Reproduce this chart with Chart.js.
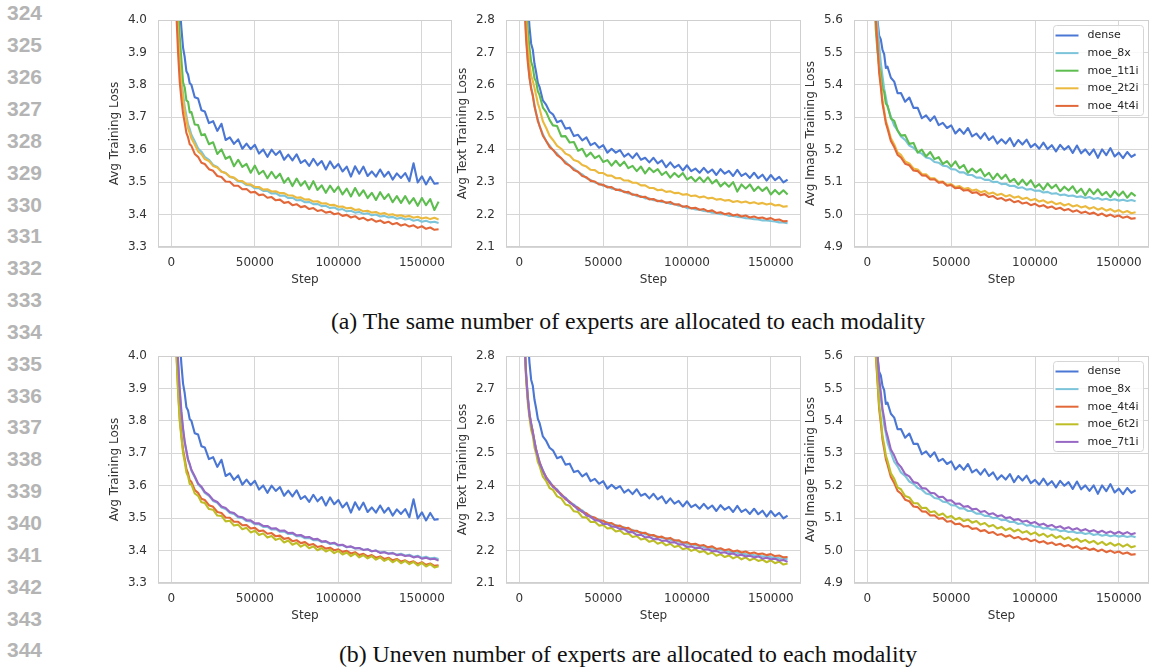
<!DOCTYPE html>
<html lang="en">
<head>
<meta charset="UTF-8">
<title>MoE training loss curves</title>
<script src="https://cdn.jsdelivr.net/npm/chart.js"></script>
<style>
    body {
        margin: 0;
        width: 1150px;
        height: 670px;
        position: relative;
        overflow: hidden;
        background: #fff;
        font-family: "DejaVu Sans", sans-serif;
    }
    .panel { position: absolute; }
    .panel canvas { display: block; }
    .lineno {
        position: absolute;
        left: 7px;
        font-family: "Liberation Sans", Arial, sans-serif;
        font-weight: bold;
        font-size: 21px;
        line-height: 21px;
        color: #b4b4b4;
    }
    .caption {
        position: absolute;
        left: 108px;
        width: 1040px;
        text-align: center;
        font-family: "Liberation Serif", "Times New Roman", serif;
        font-size: 23.8px;
        line-height: 23.8px;
        color: #111;
    }
</style>
</head>
<body>
<script>
// training steps shared by every curve
const steps = [3000, 4000, 5000, 6000, 7000, 8000, 9000, 10000, 11000, 12000,
    14000, 16000, 18000, 20000, 22500, 25000, 27500, 30000, 32500, 35000,
    37500, 40000, 42500, 45000, 47500, 50000, 52500, 55000, 57500, 60000,
    62500, 65000, 67500, 70000, 72500, 75000, 77500, 80000, 82500, 85000,
    87500, 90000, 92500, 95000, 97500, 100000, 102500, 105000, 107500, 110000,
    112500, 115000, 117500, 120000, 122500, 125000, 127500, 130000, 132500, 135000,
    137500, 140000, 142500, 145000, 147500, 150000, 152500, 155000, 157500, 160000];

const stepTicks = [0, 50000, 100000, 150000];
const allTicks = [3.3, 3.4, 3.5, 3.6, 3.7, 3.8, 3.9, 4.0];
const textTicks = [2.1, 2.2, 2.3, 2.4, 2.5, 2.6, 2.7, 2.8];
const imageTicks = [4.9, 5.0, 5.1, 5.2, 5.3, 5.4, 5.5, 5.6];

// --- avg training loss (all tokens) ---
const allDense = [4.40, 4.20, 4.05, 3.975, 3.915, 3.885, 3.842, 3.832, 3.805, 3.800,
    3.762, 3.758, 3.722, 3.718, 3.682, 3.688, 3.658, 3.680, 3.630, 3.638,
    3.618, 3.632, 3.603, 3.619, 3.602, 3.615, 3.588, 3.601, 3.578, 3.600,
    3.584, 3.596, 3.569, 3.585, 3.567, 3.586, 3.559, 3.568, 3.550, 3.572,
    3.552, 3.565, 3.539, 3.564, 3.543, 3.556, 3.533, 3.548, 3.517, 3.549,
    3.526, 3.548, 3.519, 3.533, 3.517, 3.539, 3.517, 3.532, 3.508, 3.527,
    3.513, 3.528, 3.503, 3.558, 3.499, 3.518, 3.493, 3.516, 3.495, 3.497];
const allMoe8x = [4.10, 3.98, 3.89, 3.82, 3.772, 3.733, 3.705, 3.678, 3.664, 3.646,
    3.626, 3.604, 3.594, 3.578, 3.569, 3.553, 3.547, 3.533, 3.528, 3.516,
    3.513, 3.502, 3.500, 3.491, 3.490, 3.481, 3.481, 3.473, 3.473, 3.465,
    3.466, 3.458, 3.459, 3.451, 3.452, 3.444, 3.445, 3.438, 3.439, 3.432,
    3.433, 3.426, 3.427, 3.420, 3.422, 3.415, 3.417, 3.410, 3.412, 3.406,
    3.408, 3.402, 3.404, 3.398, 3.400, 3.394, 3.396, 3.391, 3.393, 3.387,
    3.390, 3.385, 3.387, 3.381, 3.384, 3.378, 3.381, 3.376, 3.378, 3.374];
const allMoe1t1i = [4.30, 4.06, 3.95, 3.878, 3.808, 3.792, 3.752, 3.748, 3.715, 3.716,
    3.678, 3.676, 3.645, 3.648, 3.617, 3.623, 3.587, 3.601, 3.572, 3.579,
    3.549, 3.569, 3.547, 3.556, 3.529, 3.551, 3.525, 3.535, 3.512, 3.532,
    3.512, 3.526, 3.498, 3.513, 3.488, 3.511, 3.489, 3.503, 3.478, 3.503,
    3.476, 3.490, 3.467, 3.489, 3.470, 3.486, 3.462, 3.480, 3.456, 3.482,
    3.458, 3.475, 3.451, 3.467, 3.445, 3.469, 3.448, 3.463, 3.438, 3.457,
    3.436, 3.457, 3.434, 3.451, 3.427, 3.451, 3.429, 3.448, 3.414, 3.440];
const allMoe2t2i = [4.08, 3.96, 3.87, 3.80, 3.757, 3.718, 3.692, 3.666, 3.652, 3.635,
    3.616, 3.595, 3.586, 3.571, 3.565, 3.550, 3.545, 3.532, 3.528, 3.517,
    3.514, 3.504, 3.503, 3.494, 3.493, 3.485, 3.485, 3.477, 3.478, 3.471,
    3.472, 3.466, 3.466, 3.459, 3.459, 3.452, 3.453, 3.446, 3.447, 3.440,
    3.441, 3.434, 3.435, 3.429, 3.430, 3.424, 3.425, 3.419, 3.421, 3.414,
    3.416, 3.410, 3.412, 3.406, 3.408, 3.402, 3.405, 3.399, 3.401, 3.396,
    3.398, 3.393, 3.396, 3.390, 3.393, 3.388, 3.391, 3.386, 3.390, 3.385];
const allMoe4t4i = [4.02, 3.90, 3.81, 3.757, 3.712, 3.683, 3.652, 3.638, 3.617, 3.612,
    3.587, 3.578, 3.560, 3.556, 3.540, 3.535, 3.519, 3.516, 3.502, 3.501,
    3.489, 3.489, 3.478, 3.479, 3.468, 3.470, 3.460, 3.462, 3.452, 3.454,
    3.444, 3.446, 3.436, 3.439, 3.429, 3.432, 3.423, 3.426, 3.417, 3.420,
    3.411, 3.414, 3.406, 3.409, 3.401, 3.404, 3.396, 3.399, 3.391, 3.395,
    3.386, 3.390, 3.382, 3.386, 3.378, 3.382, 3.374, 3.378, 3.370, 3.374,
    3.366, 3.370, 3.363, 3.367, 3.359, 3.364, 3.356, 3.360, 3.353, 3.355];
const allMoe6t2i = [4.01, 3.89, 3.80, 3.748, 3.701, 3.674, 3.641, 3.629, 3.605, 3.604,
    3.576, 3.569, 3.549, 3.547, 3.528, 3.526, 3.508, 3.507, 3.490, 3.492,
    3.477, 3.480, 3.466, 3.470, 3.456, 3.461, 3.448, 3.453, 3.440, 3.445,
    3.433, 3.438, 3.425, 3.431, 3.418, 3.424, 3.412, 3.419, 3.407, 3.413,
    3.401, 3.408, 3.397, 3.403, 3.392, 3.399, 3.388, 3.394, 3.383, 3.391,
    3.379, 3.386, 3.376, 3.383, 3.372, 3.379, 3.368, 3.375, 3.364, 3.372,
    3.361, 3.368, 3.358, 3.365, 3.354, 3.362, 3.351, 3.358, 3.348, 3.352];
const allMoe7t1i = [4.11, 3.99, 3.90, 3.83, 3.777, 3.736, 3.708, 3.681, 3.667, 3.649,
    3.629, 3.607, 3.597, 3.581, 3.572, 3.556, 3.550, 3.536, 3.531, 3.519,
    3.516, 3.505, 3.503, 3.494, 3.493, 3.484, 3.484, 3.476, 3.476, 3.468,
    3.469, 3.461, 3.462, 3.454, 3.455, 3.447, 3.448, 3.441, 3.442, 3.435,
    3.436, 3.428, 3.429, 3.422, 3.424, 3.417, 3.418, 3.411, 3.413, 3.407,
    3.408, 3.402, 3.404, 3.398, 3.400, 3.393, 3.395, 3.390, 3.392, 3.386,
    3.388, 3.383, 3.385, 3.379, 3.382, 3.375, 3.378, 3.373, 3.375, 3.369];

// --- avg text training loss ---
const textDense = [3.10, 2.98, 2.86, 2.78, 2.727, 2.708, 2.665, 2.638, 2.606, 2.594,
    2.552, 2.538, 2.517, 2.509, 2.485, 2.490, 2.465, 2.468, 2.442, 2.446,
    2.429, 2.438, 2.414, 2.421, 2.406, 2.414, 2.391, 2.403, 2.391, 2.399,
    2.379, 2.388, 2.374, 2.389, 2.369, 2.375, 2.361, 2.375, 2.358, 2.367,
    2.346, 2.361, 2.345, 2.353, 2.336, 2.352, 2.334, 2.342, 2.329, 2.344,
    2.329, 2.339, 2.322, 2.340, 2.326, 2.335, 2.319, 2.338, 2.319, 2.327,
    2.313, 2.329, 2.312, 2.323, 2.305, 2.322, 2.306, 2.316, 2.299, 2.308];
const textMoe8x = [2.86, 2.75, 2.68, 2.624, 2.593, 2.566, 2.538, 2.511, 2.493, 2.473,
    2.448, 2.426, 2.413, 2.399, 2.388, 2.373, 2.363, 2.350, 2.342, 2.331,
    2.324, 2.312, 2.307, 2.299, 2.296, 2.289, 2.287, 2.280, 2.279, 2.273,
    2.272, 2.265, 2.264, 2.257, 2.257, 2.250, 2.250, 2.244, 2.243, 2.239,
    2.238, 2.233, 2.233, 2.227, 2.226, 2.220, 2.220, 2.216, 2.215, 2.211,
    2.210, 2.206, 2.205, 2.201, 2.201, 2.196, 2.196, 2.193, 2.192, 2.189,
    2.188, 2.186, 2.185, 2.182, 2.182, 2.180, 2.179, 2.176, 2.176, 2.173];
const textMoe1t1i = [3.00, 2.86, 2.77, 2.714, 2.671, 2.655, 2.620, 2.610, 2.580, 2.569,
    2.530, 2.516, 2.492, 2.475, 2.473, 2.441, 2.442, 2.422, 2.424, 2.397,
    2.403, 2.379, 2.391, 2.374, 2.382, 2.362, 2.368, 2.351, 2.366, 2.350,
    2.363, 2.343, 2.350, 2.334, 2.348, 2.327, 2.344, 2.331, 2.340, 2.322,
    2.332, 2.314, 2.328, 2.316, 2.328, 2.308, 2.316, 2.302, 2.315, 2.300,
    2.315, 2.296, 2.307, 2.287, 2.299, 2.286, 2.300, 2.271, 2.293, 2.280,
    2.293, 2.273, 2.286, 2.273, 2.284, 2.262, 2.276, 2.263, 2.275, 2.262];
const textMoe2t2i = [2.92, 2.80, 2.72, 2.667, 2.628, 2.612, 2.590, 2.567, 2.543, 2.527,
    2.488, 2.467, 2.443, 2.430, 2.412, 2.403, 2.388, 2.382, 2.368, 2.364,
    2.353, 2.348, 2.338, 2.337, 2.328, 2.328, 2.320, 2.320, 2.312, 2.313,
    2.305, 2.305, 2.298, 2.298, 2.290, 2.290, 2.282, 2.282, 2.275, 2.277,
    2.270, 2.272, 2.266, 2.267, 2.261, 2.263, 2.257, 2.259, 2.253, 2.256,
    2.250, 2.252, 2.246, 2.248, 2.243, 2.245, 2.239, 2.242, 2.237, 2.240,
    2.235, 2.238, 2.233, 2.236, 2.231, 2.234, 2.228, 2.230, 2.224, 2.226];
const textMoe4t4i = [2.85, 2.74, 2.67, 2.622, 2.588, 2.567, 2.533, 2.512, 2.488, 2.474,
    2.443, 2.427, 2.408, 2.400, 2.383, 2.374, 2.358, 2.351, 2.337, 2.332,
    2.319, 2.315, 2.304, 2.302, 2.293, 2.292, 2.284, 2.285, 2.276, 2.277,
    2.269, 2.270, 2.261, 2.261, 2.254, 2.255, 2.247, 2.248, 2.241, 2.243,
    2.236, 2.239, 2.231, 2.232, 2.224, 2.226, 2.219, 2.221, 2.215, 2.217,
    2.210, 2.213, 2.205, 2.207, 2.201, 2.204, 2.197, 2.200, 2.194, 2.197,
    2.191, 2.194, 2.189, 2.191, 2.186, 2.189, 2.183, 2.185, 2.179, 2.180];
const textMoe6t2i = [2.836, 2.726, 2.656, 2.609, 2.573, 2.554, 2.518, 2.499, 2.473, 2.461,
    2.428, 2.414, 2.393, 2.387, 2.367, 2.361, 2.342, 2.338, 2.321, 2.319,
    2.303, 2.302, 2.288, 2.289, 2.277, 2.279, 2.268, 2.270, 2.259, 2.262,
    2.251, 2.253, 2.242, 2.245, 2.234, 2.237, 2.227, 2.231, 2.221, 2.226,
    2.216, 2.221, 2.211, 2.215, 2.204, 2.208, 2.199, 2.204, 2.195, 2.199,
    2.189, 2.194, 2.184, 2.189, 2.180, 2.185, 2.176, 2.182, 2.173, 2.179,
    2.170, 2.176, 2.168, 2.172, 2.164, 2.170, 2.161, 2.166, 2.157, 2.160];
const textMoe7t1i = [2.85, 2.74, 2.67, 2.618, 2.592, 2.563, 2.537, 2.508, 2.492, 2.470,
    2.447, 2.423, 2.412, 2.396, 2.387, 2.370, 2.362, 2.347, 2.340, 2.326,
    2.321, 2.308, 2.304, 2.294, 2.292, 2.282, 2.282, 2.274, 2.273, 2.266,
    2.266, 2.257, 2.257, 2.248, 2.249, 2.241, 2.242, 2.235, 2.236, 2.230,
    2.231, 2.225, 2.226, 2.219, 2.219, 2.211, 2.213, 2.207, 2.209, 2.203,
    2.204, 2.198, 2.199, 2.193, 2.195, 2.189, 2.191, 2.185, 2.187, 2.182,
    2.184, 2.179, 2.182, 2.175, 2.178, 2.173, 2.175, 2.169, 2.171, 2.165];

// --- avg image training loss ---
const imgDense = [6.05, 5.85, 5.68, 5.60, 5.552, 5.540, 5.508, 5.495, 5.452, 5.456,
    5.422, 5.410, 5.374, 5.375, 5.348, 5.361, 5.329, 5.329, 5.297, 5.306,
    5.289, 5.303, 5.276, 5.283, 5.267, 5.275, 5.250, 5.264, 5.249, 5.267,
    5.241, 5.250, 5.234, 5.251, 5.230, 5.241, 5.219, 5.232, 5.219, 5.236,
    5.211, 5.230, 5.216, 5.231, 5.208, 5.218, 5.203, 5.222, 5.202, 5.214,
    5.195, 5.215, 5.200, 5.211, 5.190, 5.213, 5.189, 5.201, 5.184, 5.201,
    5.175, 5.201, 5.183, 5.205, 5.179, 5.191, 5.174, 5.193, 5.178, 5.186];
const imgMoe8x = [5.95, 5.80, 5.68, 5.59, 5.522, 5.468, 5.427, 5.388, 5.362, 5.333,
    5.302, 5.274, 5.260, 5.241, 5.230, 5.213, 5.206, 5.193, 5.188, 5.176,
    5.173, 5.162, 5.160, 5.151, 5.149, 5.140, 5.139, 5.130, 5.130, 5.122,
    5.122, 5.114, 5.114, 5.107, 5.107, 5.100, 5.101, 5.094, 5.095, 5.088,
    5.089, 5.082, 5.084, 5.077, 5.079, 5.073, 5.074, 5.068, 5.070, 5.064,
    5.066, 5.060, 5.062, 5.057, 5.059, 5.054, 5.056, 5.051, 5.054, 5.048,
    5.051, 5.046, 5.049, 5.044, 5.047, 5.043, 5.046, 5.042, 5.045, 5.041];
const imgMoe1t1i = [5.90, 5.72, 5.57, 5.505, 5.460, 5.436, 5.388, 5.378, 5.342, 5.336,
    5.296, 5.289, 5.259, 5.244, 5.245, 5.218, 5.221, 5.191, 5.200, 5.179,
    5.193, 5.171, 5.177, 5.156, 5.165, 5.148, 5.164, 5.143, 5.153, 5.129,
    5.142, 5.130, 5.140, 5.118, 5.129, 5.109, 5.126, 5.110, 5.123, 5.101,
    5.110, 5.092, 5.108, 5.091, 5.106, 5.084, 5.094, 5.077, 5.096, 5.081,
    5.092, 5.072, 5.086, 5.074, 5.087, 5.067, 5.080, 5.059, 5.079, 5.063,
    5.078, 5.060, 5.070, 5.054, 5.072, 5.058, 5.071, 5.052, 5.067, 5.057];
const imgMoe2t2i = [5.86, 5.71, 5.61, 5.532, 5.452, 5.403, 5.352, 5.321, 5.289, 5.273,
    5.235, 5.216, 5.192, 5.184, 5.164, 5.158, 5.142, 5.139, 5.125, 5.124,
    5.112, 5.112, 5.101, 5.102, 5.092, 5.094, 5.085, 5.088, 5.079, 5.082,
    5.074, 5.077, 5.069, 5.073, 5.064, 5.068, 5.060, 5.064, 5.056, 5.060,
    5.052, 5.056, 5.048, 5.052, 5.044, 5.048, 5.040, 5.044, 5.036, 5.040,
    5.032, 5.036, 5.028, 5.033, 5.025, 5.029, 5.022, 5.026, 5.018, 5.023,
    5.015, 5.020, 5.012, 5.017, 5.009, 5.014, 5.006, 5.011, 5.004, 5.007];
const imgMoe4t4i = [5.85, 5.70, 5.60, 5.523, 5.437, 5.393, 5.342, 5.313, 5.282, 5.265,
    5.227, 5.208, 5.184, 5.176, 5.157, 5.152, 5.136, 5.134, 5.121, 5.120,
    5.108, 5.109, 5.098, 5.100, 5.089, 5.091, 5.081, 5.083, 5.074, 5.076,
    5.067, 5.069, 5.060, 5.063, 5.054, 5.057, 5.048, 5.051, 5.043, 5.047,
    5.038, 5.042, 5.034, 5.037, 5.029, 5.033, 5.025, 5.029, 5.021, 5.025,
    5.017, 5.021, 5.013, 5.017, 5.009, 5.013, 5.005, 5.009, 5.002, 5.006,
    4.998, 5.003, 4.995, 5.000, 4.993, 4.997, 4.990, 4.994, 4.987, 4.989];
const imgMoe6t2i = [5.86, 5.71, 5.61, 5.534, 5.448, 5.405, 5.353, 5.326, 5.293, 5.277,
    5.238, 5.221, 5.195, 5.189, 5.168, 5.164, 5.146, 5.146, 5.131, 5.132,
    5.118, 5.121, 5.109, 5.114, 5.102, 5.107, 5.096, 5.101, 5.091, 5.096,
    5.086, 5.091, 5.080, 5.085, 5.074, 5.079, 5.068, 5.073, 5.063, 5.069,
    5.059, 5.065, 5.055, 5.060, 5.050, 5.056, 5.046, 5.052, 5.042, 5.049,
    5.039, 5.045, 5.035, 5.041, 5.031, 5.037, 5.027, 5.033, 5.024, 5.030,
    5.020, 5.027, 5.017, 5.024, 5.015, 5.021, 5.012, 5.019, 5.010, 5.014];
const imgMoe7t1i = [5.96, 5.81, 5.69, 5.607, 5.532, 5.488, 5.437, 5.408, 5.372, 5.353,
    5.312, 5.293, 5.269, 5.258, 5.236, 5.229, 5.211, 5.208, 5.193, 5.191,
    5.178, 5.177, 5.165, 5.166, 5.154, 5.155, 5.144, 5.145, 5.135, 5.137,
    5.127, 5.129, 5.119, 5.122, 5.112, 5.115, 5.106, 5.109, 5.100, 5.103,
    5.094, 5.097, 5.089, 5.092, 5.084, 5.088, 5.079, 5.083, 5.075, 5.079,
    5.071, 5.075, 5.067, 5.072, 5.064, 5.069, 5.061, 5.066, 5.059, 5.063,
    5.056, 5.061, 5.054, 5.059, 5.052, 5.058, 5.051, 5.057, 5.050, 5.054];

const rowSeries = [
    ['dense', 'moe_8x', 'moe_1t1i', 'moe_2t2i', 'moe_4t4i'],
    ['dense', 'moe_8x', 'moe_4t4i', 'moe_6t2i', 'moe_7t1i']
];
const yTitles = ['Avg Training Loss', 'Avg Text Training Loss', 'Avg Image Training Loss'];
const captions = [
    '(a) The same number of experts are allocated to each modality',
    '(b) Uneven number of experts are allocated to each modality'
];
const firstLineNo = 324, lineNoCount = 21;

const colors = {
    dense: '#4a76d4',
    moe_8x: '#7cc4d9',
    moe_1t1i: '#5dbd4f',
    moe_2t2i: '#ebb93d',
    moe_4t4i: '#e2683a',
    moe_6t2i: '#bdbd26',
    moe_7t1i: '#9768c4'
};

// per column: curves and y ticks
const lossTable = [
    {dense: allDense, moe_8x: allMoe8x, moe_1t1i: allMoe1t1i, moe_2t2i: allMoe2t2i,
     moe_4t4i: allMoe4t4i, moe_6t2i: allMoe6t2i, moe_7t1i: allMoe7t1i},
    {dense: textDense, moe_8x: textMoe8x, moe_1t1i: textMoe1t1i, moe_2t2i: textMoe2t2i,
     moe_4t4i: textMoe4t4i, moe_6t2i: textMoe6t2i, moe_7t1i: textMoe7t1i},
    {dense: imgDense, moe_8x: imgMoe8x, moe_1t1i: imgMoe1t1i, moe_2t2i: imgMoe2t2i,
     moe_4t4i: imgMoe4t4i, moe_6t2i: imgMoe6t2i, moe_7t1i: imgMoe7t1i}
];
const yTickSets = [allTicks, textTicks, imageTicks];

// page layout (pixels)
const colLeft = [158, 506, 854];
const colWidth = [294, 295, 295];
const rowTop = [20, 356];
const plotH = 227, axisW = 58, padTop = 20, axisH = 40;
const captionTop = [310, 643];

const gridColor = '#d6d6d6';
const textColor = '#333333';
const font12 = {family: 'DejaVu Sans', size: 12};

// line numbers down the left margin
for (let i = 0; i < lineNoCount; i++) {
    const d = document.createElement('div');
    d.className = 'lineno';
    d.style.top = (12.7 + 31.85 * i - 10.3) + 'px';
    d.textContent = firstLineNo + i;
    document.body.appendChild(d);
}
captions.forEach((t, i) => {
    const d = document.createElement('div');
    d.className = 'caption';
    d.style.top = captionTop[i] + 'px';
    d.textContent = t;
    document.body.appendChild(d);
});

// light frame around each plot area
const framePlugin = {
    id: 'frame',
    afterDatasetsDraw(chart) {
        const {ctx, chartArea: a} = chart;
        ctx.save();
        ctx.strokeStyle = '#cfcfcf';
        ctx.lineWidth = 1;
        const l = Math.round(a.left) + 0.5, t = Math.round(a.top) + 0.5;
        const r = Math.round(a.right) - 0.5, b = Math.round(a.bottom) - 0.5;
        ctx.strokeRect(l, t, r - l, b - t);
        ctx.restore();
    }
};

// matplotlib-style legend in the upper right corner
const boxLegend = {
    id: 'boxLegend',
    afterDraw(chart, args, opts) {
        if (!opts.show) return;
        const {ctx, chartArea: a} = chart;
        const w = 90, h = 90;
        const x = Math.round(a.right) - w - 6 + 0.5, y = Math.round(a.top) + 5 + 0.5;
        ctx.save();
        ctx.fillStyle = 'rgba(255,255,255,0.85)';
        ctx.strokeStyle = '#d6d6d6';
        ctx.lineWidth = 1;
        ctx.beginPath();
        ctx.roundRect(x, y, w, h, 3);
        ctx.fill();
        ctx.stroke();
        ctx.font = '11px "DejaVu Sans"';
        ctx.textBaseline = 'middle';
        chart.data.datasets.forEach((ds, i) => {
            const yy = y + 10 + i * 17.6;
            ctx.strokeStyle = ds.borderColor;
            ctx.lineWidth = 2;
            ctx.beginPath();
            ctx.moveTo(x + 2, yy);
            ctx.lineTo(x + 25, yy);
            ctx.stroke();
            ctx.fillStyle = '#262626';
            ctx.fillText(ds.label, x + 34, yy);
        });
        ctx.restore();
    }
};

function makePanel(row, col) {
    const wrap = document.createElement('div');
    wrap.className = 'panel';
    const cw = axisW + colWidth[col] + 2;
    const ch = padTop + plotH + axisH;
    wrap.style.left = (colLeft[col] - axisW) + 'px';
    wrap.style.top = (rowTop[row] - padTop) + 'px';
    const canvas = document.createElement('canvas');
    canvas.width = cw;
    canvas.height = ch;
    wrap.appendChild(canvas);
    document.body.appendChild(wrap);

    const names = rowSeries[row];
    const ticks = yTickSets[col];
    const datasets = names.map((name, i) => ({
        label: name,
        data: steps.map((s, k) => ({x: s, y: lossTable[col][name][k]})),
        borderColor: colors[name],
        backgroundColor: colors[name],
        borderWidth: 2.1,
        borderJoinStyle: 'round',
        pointRadius: 0,
        order: names.length - i
    }));

    new Chart(canvas, {
        type: 'line',
        data: {datasets},
        options: {
            responsive: false,
            animation: false,
            devicePixelRatio: 1,
            layout: {autoPadding: false, padding: {left: 0, right: 2, top: padTop, bottom: 0}},
            plugins: {
                legend: {display: false},
                tooltip: {enabled: false},
                boxLegend: {show: col === 2}
            },
            scales: {
                x: {
                    type: 'linear',
                    min: -8000,
                    max: 168000,
                    afterBuildTicks: s => { s.ticks = stepTicks.map(v => ({value: v})); },
                    afterFit: s => { s.height = axisH; },
                    grid: {color: gridColor, drawTicks: false},
                    border: {display: false},
                    ticks: {padding: 9, color: textColor, font: font12, maxRotation: 0,
                            callback: v => String(v)},
                    title: {display: true, text: 'Step', color: textColor, font: font12,
                            padding: {top: 0, bottom: 0}}
                },
                y: {
                    min: ticks[0],
                    max: ticks[ticks.length - 1],
                    afterBuildTicks: s => { s.ticks = ticks.map(v => ({value: v})); },
                    afterFit: s => { s.width = axisW; },
                    grid: {color: gridColor, drawTicks: false},
                    border: {display: false},
                    ticks: {padding: 11, color: textColor, font: font12,
                            callback: v => v.toFixed(1)},
                    title: {display: true, text: yTitles[col], color: textColor, font: font12,
                            padding: {top: 7.8, bottom: 0}}
                }
            }
        },
        plugins: [framePlugin, boxLegend]
    });
}

for (let r = 0; r < 2; r++) {
    for (let c = 0; c < 3; c++) makePanel(r, c);
}
</script>
</body>
</html>
